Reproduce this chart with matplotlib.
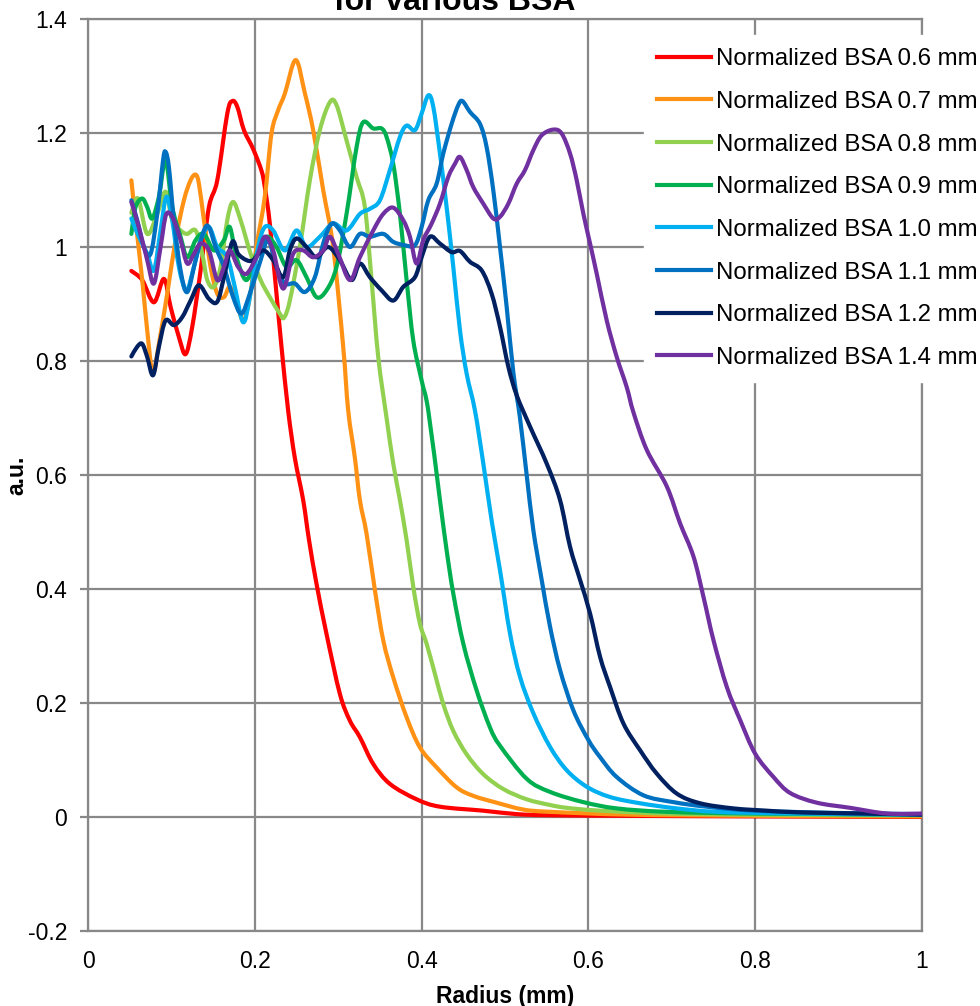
import numpy as np
import matplotlib
matplotlib.use("Agg")
import matplotlib.pyplot as plt
from matplotlib.path import Path
from matplotlib.patches import PathPatch
from matplotlib.lines import Line2D

plt.rcParams['font.family'] = ['Liberation Sans', 'DejaVu Sans']

# (radius mm, a.u.)
bsa_06 = np.array([(0.052,0.958),(0.065,0.942),(0.079,0.903),(0.091,0.944),(0.099,0.895),(0.109,0.842),
    (0.117,0.812),(0.125,0.860),(0.135,0.959),(0.145,1.070),(0.155,1.117),(0.167,1.234),(0.173,1.256),
    (0.179,1.246),(0.187,1.205),(0.198,1.172),(0.208,1.134),(0.212,1.105),(0.218,1.041),(0.226,0.918),
    (0.232,0.825),(0.240,0.713),(0.248,0.630),(0.258,0.556),(0.265,0.486),(0.274,0.409),(0.286,0.321),
    (0.302,0.216),(0.314,0.169),(0.326,0.140),(0.342,0.093),(0.362,0.058),(0.394,0.031),(0.422,0.018),
    (0.474,0.011),(0.514,0.005),(0.554,0.003),(0.650,0.002),(0.800,0.001),(1.000,0.000)])

bsa_07 = np.array([(0.052,1.117),(0.057,1.047),(0.065,0.942),(0.073,0.825),(0.078,0.778),(0.085,0.830),
    (0.095,0.918),(0.105,1.012),(0.115,1.082),(0.123,1.117),(0.129,1.127),(0.133,1.111),(0.139,1.047),
    (0.147,0.965),(0.155,0.918),(0.163,0.912),(0.170,0.930),(0.178,0.906),(0.186,0.871),(0.194,0.912),
    (0.202,1.000),(0.212,1.088),(0.220,1.199),(0.228,1.240),(0.236,1.269),(0.249,1.328),(0.260,1.270),
    (0.270,1.205),(0.282,1.100),(0.294,1.000),(0.306,0.825),(0.312,0.713),(0.320,0.630),(0.326,0.556),
    (0.334,0.497),(0.344,0.398),(0.354,0.310),(0.366,0.245),(0.382,0.175),(0.398,0.122),(0.418,0.087),
    (0.442,0.052),(0.462,0.037),(0.490,0.025),(0.522,0.013),(0.554,0.009),(0.650,0.004),(0.800,0.002),
    (1.000,0.001)])

bsa_08 = np.array([(0.052,1.060),(0.060,1.085),(0.071,1.023),(0.083,1.058),(0.093,1.097),(0.101,1.047),
    (0.111,1.029),(0.119,1.023),(0.129,1.029),(0.137,0.988),(0.143,0.942),(0.151,0.930),(0.159,0.965),
    (0.167,1.047),(0.174,1.079),(0.183,1.047),(0.195,0.988),(0.207,0.942),(0.218,0.912),(0.230,0.883),
    (0.235,0.876),(0.242,0.906),(0.254,1.000),(0.266,1.117),(0.278,1.205),(0.290,1.254),(0.298,1.249),
    (0.310,1.187),(0.322,1.123),(0.332,1.070),(0.340,0.942),(0.348,0.807),(0.358,0.700),(0.366,0.620),
    (0.374,0.556),(0.382,0.486),(0.390,0.404),(0.398,0.339),(0.406,0.304),(0.416,0.251),(0.426,0.198),
    (0.438,0.151),(0.454,0.110),(0.474,0.075),(0.498,0.049),(0.526,0.031),(0.554,0.021),(0.574,0.016),
    (0.614,0.011),(0.694,0.006),(0.800,0.004),(1.000,0.003)])

bsa_09 = np.array([(0.052,1.023),(0.057,1.070),(0.065,1.085),(0.071,1.070),(0.077,1.050),(0.085,1.088),
    (0.093,1.152),(0.101,1.070),(0.111,1.018),(0.119,0.982),(0.129,1.012),(0.139,1.023),(0.151,0.994),
    (0.163,1.012),(0.170,1.035),(0.178,0.982),(0.190,0.942),(0.202,0.988),(0.214,1.018),(0.226,1.000),
    (0.238,0.965),(0.250,0.977),(0.262,0.947),(0.274,0.912),(0.286,0.924),(0.298,0.965),(0.310,1.058),
    (0.322,1.175),(0.330,1.219),(0.342,1.208),(0.352,1.208),(0.358,1.193),(0.366,1.146),(0.374,1.058),
    (0.382,0.942),(0.390,0.836),(0.400,0.766),(0.408,0.713),(0.422,0.556),(0.430,0.468),(0.438,0.392),
    (0.450,0.304),(0.466,0.222),(0.482,0.157),(0.494,0.125),(0.526,0.067),(0.554,0.044),(0.594,0.026),
    (0.634,0.015),(0.694,0.009),(0.800,0.006),(1.000,0.004)])

bsa_10 = np.array([(0.052,1.050),(0.061,1.018),(0.071,0.988),(0.079,0.959),(0.087,1.029),(0.094,1.088),
    (0.101,1.047),(0.109,0.965),(0.118,0.924),(0.127,0.965),(0.135,1.012),(0.145,1.035),(0.155,1.000),
    (0.167,0.982),(0.176,0.930),(0.186,0.868),(0.194,0.912),(0.204,1.000),(0.212,1.035),(0.222,1.029),
    (0.236,0.994),(0.250,1.029),(0.262,1.000),(0.278,1.018),(0.294,1.041),(0.310,1.029),(0.326,1.058),
    (0.338,1.067),(0.350,1.082),(0.362,1.135),(0.374,1.193),(0.382,1.213),(0.392,1.205),(0.400,1.234),
    (0.408,1.266),(0.414,1.246),(0.422,1.164),(0.430,1.070),(0.438,0.965),(0.446,0.854),(0.454,0.778),
    (0.464,0.713),(0.474,0.620),(0.484,0.520),(0.494,0.433),(0.506,0.322),(0.518,0.246),(0.534,0.182),
    (0.554,0.123),(0.574,0.082),(0.598,0.053),(0.626,0.035),(0.662,0.024),(0.706,0.015),(0.754,0.009),
    (0.850,0.006),(1.000,0.004)])

bsa_11 = np.array([(0.052,1.082),(0.059,1.047),(0.067,1.000),(0.075,0.988),(0.083,1.058),(0.090,1.152),
    (0.093,1.167),(0.097,1.140),(0.103,1.047),(0.111,0.959),(0.119,0.921),(0.129,0.977),(0.139,1.029),
    (0.145,1.035),(0.153,1.000),(0.163,0.965),(0.174,0.912),(0.184,0.883),(0.194,0.918),(0.207,0.977),
    (0.216,1.012),(0.226,0.965),(0.236,0.936),(0.248,0.936),(0.260,0.921),(0.272,0.947),(0.282,1.006),
    (0.292,1.041),(0.302,1.029),(0.314,1.000),(0.326,1.023),(0.338,1.018),(0.354,1.023),(0.366,1.009),
    (0.380,1.003),(0.392,1.003),(0.400,1.035),(0.408,1.082),(0.418,1.111),(0.426,1.164),(0.436,1.216),
    (0.444,1.249),(0.449,1.256),(0.458,1.237),(0.470,1.216),(0.478,1.175),(0.486,1.099),(0.494,1.000),
    (0.502,0.895),(0.510,0.780),(0.518,0.700),(0.526,0.600),(0.534,0.503),(0.544,0.416),(0.554,0.334),
    (0.566,0.258),(0.582,0.187),(0.600,0.135),(0.614,0.105),(0.634,0.070),(0.666,0.038),(0.702,0.026),
    (0.742,0.018),(0.800,0.011),(0.900,0.007),(1.000,0.005)])

bsa_12 = np.array([(0.052,0.808),(0.059,0.825),(0.065,0.830),(0.071,0.807),(0.078,0.775),(0.085,0.825),
    (0.093,0.871),(0.103,0.863),(0.113,0.877),(0.123,0.906),(0.133,0.933),(0.145,0.909),(0.155,0.904),
    (0.163,0.947),(0.173,1.009),(0.180,0.988),(0.190,0.977),(0.198,0.977),(0.210,0.994),(0.222,0.977),
    (0.234,0.947),(0.242,0.994),(0.250,1.015),(0.262,1.000),(0.274,0.982),(0.288,1.000),(0.302,0.977),
    (0.316,0.942),(0.326,0.971),(0.338,0.947),(0.352,0.924),(0.366,0.906),(0.378,0.930),(0.392,0.947),
    (0.400,0.982),(0.410,1.018),(0.422,1.006),(0.436,0.991),(0.446,0.993),(0.458,0.974),(0.472,0.959),
    (0.484,0.918),(0.494,0.860),(0.504,0.790),(0.514,0.740),(0.530,0.685),(0.550,0.620),(0.566,0.556),
    (0.578,0.474),(0.590,0.416),(0.602,0.357),(0.614,0.281),(0.626,0.228),(0.642,0.164),(0.662,0.117),
    (0.682,0.076),(0.706,0.041),(0.734,0.024),(0.774,0.015),(0.814,0.011),(0.854,0.008),(0.930,0.006),
    (1.000,0.004)])

bsa_14 = np.array([(0.052,1.079),(0.061,1.035),(0.071,0.977),(0.079,0.936),(0.087,1.000),(0.094,1.058),
    (0.103,1.047),(0.111,1.012),(0.119,0.971),(0.127,0.988),(0.135,1.006),(0.145,0.994),(0.155,0.942),
    (0.163,0.965),(0.170,0.994),(0.180,0.965),(0.190,0.953),(0.202,0.982),(0.212,1.018),(0.222,0.994),
    (0.234,0.927),(0.246,0.988),(0.258,0.994),(0.270,0.982),(0.282,0.994),(0.290,1.018),(0.300,0.988),
    (0.314,0.942),(0.326,0.982),(0.342,1.029),(0.354,1.058),(0.366,1.069),(0.378,1.047),(0.386,1.018),
    (0.394,0.971),(0.402,1.012),(0.412,1.041),(0.422,1.076),(0.432,1.123),(0.440,1.146),(0.446,1.158),
    (0.454,1.135),(0.462,1.105),(0.474,1.076),(0.486,1.050),(0.494,1.053),(0.504,1.076),(0.514,1.111),
    (0.524,1.135),(0.534,1.170),(0.544,1.196),(0.558,1.206),(0.568,1.199),(0.578,1.164),(0.586,1.117),
    (0.594,1.058),(0.602,1.006),(0.610,0.953),(0.622,0.871),(0.634,0.807),(0.646,0.754),(0.654,0.710),
    (0.670,0.644),(0.694,0.580),(0.710,0.515),(0.726,0.457),(0.738,0.386),(0.750,0.310),(0.766,0.228),
    (0.782,0.170),(0.800,0.111),(0.822,0.070),(0.842,0.042),(0.874,0.025),(0.914,0.016),(0.958,0.006),
    (1.000,0.006)])

series = [bsa_06, bsa_07, bsa_08, bsa_09, bsa_10, bsa_11, bsa_12, bsa_14]
labels = ['Normalized BSA 0.6 mm', 'Normalized BSA 0.7 mm', 'Normalized BSA 0.8 mm',
          'Normalized BSA 0.9 mm', 'Normalized BSA 1.0 mm', 'Normalized BSA 1.1 mm',
          'Normalized BSA 1.2 mm', 'Normalized BSA 1.4 mm']
colors = ['#FF0000', '#FF9215', '#92D050', '#00B050', '#00B0F0', '#0070C0', '#002060', '#7030A0']

x_ticks = [0, 0.2, 0.4, 0.6, 0.8, 1]
x_tick_labels = ['0', '0.2', '0.4', '0.6', '0.8', '1']
y_ticks = [-0.2, 0, 0.2, 0.4, 0.6, 0.8, 1.0, 1.2, 1.4]
y_tick_labels = ['-0.2', '0', '0.2', '0.4', '0.6', '0.8', '1', '1.2', '1.4']

grid_c = '#888888'
fs = 16.5
lw = 3.0


def smooth_path(pts):
    # Excel-style "smoothed line": Catmull-Rom through the read points as cubic Beziers
    p = np.vstack([pts[0], pts, pts[-1]])
    verts = [pts[0]]
    codes = [Path.MOVETO]
    for i in range(1, len(p) - 2):
        c1 = p[i] + (p[i + 1] - p[i - 1]) / 6.0
        c2 = p[i + 1] - (p[i + 2] - p[i]) / 6.0
        verts += [c1, c2, p[i + 1]]
        codes += [Path.CURVE4] * 3
    return Path(verts, codes)


fig = plt.figure(figsize=(9.8, 10.06), dpi=100)
ax = fig.add_axes([0.0898, 0.0746, 0.851, 0.9065])

handles = []
for pts, lab, c in zip(series, labels, colors):
    ax.add_patch(PathPatch(smooth_path(pts), fill=False, edgecolor=c, lw=lw,
                           joinstyle='round', capstyle='round', zorder=3))
    handles.append(Line2D([], [], color=c, lw=lw, label=lab))

ax.set_xlim(0, 1)
ax.set_ylim(-0.2, 1.4)
ax.set_xticks(x_ticks)
ax.set_xticklabels(x_tick_labels)
ax.set_yticks(y_ticks)
ax.set_yticklabels(y_tick_labels)
ax.grid(True, color=grid_c, lw=1.6)
ax.set_axisbelow(True)
for s in ax.spines.values():
    s.set_color(grid_c)
    s.set_linewidth(1.6)
ax.tick_params(axis='y', length=6, width=1.6, color=grid_c, pad=9, labelsize=fs)
ax.tick_params(axis='x', length=0, pad=14, labelsize=fs)

ax.set_xlabel('Radius (mm)', fontsize=fs, fontweight='bold', labelpad=8)
ax.set_ylabel('a.u.', fontsize=fs, fontweight='bold')
ax.yaxis.set_label_coords(-0.071, 0.5)

fig.text(455 / 980, 1 - 10 / 1006, 'for various BSA', ha='center', va='baseline',
         fontsize=23, fontweight='bold')

leg = fig.legend(handles=handles, loc='upper left', bbox_to_anchor=(644 / 980, 1 - 35 / 1006),
                 fontsize=17.3, frameon=True, facecolor='white', edgecolor='white', framealpha=1,
                 handlelength=2.25, handletextpad=0.2, labelspacing=0.86,
                 borderpad=0.55, borderaxespad=0, fancybox=False)
leg.set_zorder(10)

fig.savefig('out.png', dpi=100)
